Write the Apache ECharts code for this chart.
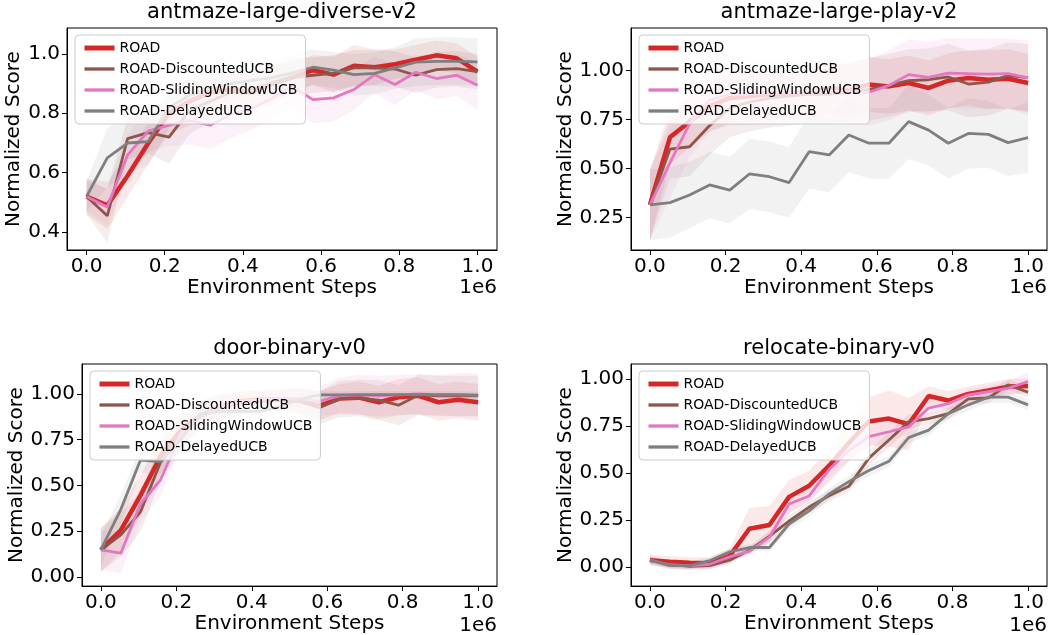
<!DOCTYPE html>
<html>
<head>
<meta charset="utf-8">
<script src="https://cdn.jsdelivr.net/npm/echarts@6/dist/echarts.min.js"></script>
<style>
  html, body { margin: 0; padding: 0; background: #fff; }
  #chart { width: 1048px; height: 635px; }
</style>
</head>
<body>
<div id="chart"></div>
<script>
// environment steps (x 1e6), 20 evaluation points
const steps = [0.0, 0.053, 0.105, 0.158, 0.211, 0.263, 0.316, 0.368, 0.421, 0.474,
               0.526, 0.579, 0.632, 0.684, 0.737, 0.789, 0.842, 0.895, 0.947, 1.0];
const methods = ['ROAD', 'ROAD-DiscountedUCB', 'ROAD-SlidingWindowUCB', 'ROAD-DelayedUCB'];
const titles = ['antmaze-large-diverse-v2', 'antmaze-large-play-v2', 'door-binary-v0', 'relocate-binary-v0'];
const xTicks = [0, 0.2, 0.4, 0.6, 0.8, 1.0];

// antmaze-large-diverse-v2
const diverseRoad  = [0.52,0.49,0.59,0.70,0.80,0.84,0.87,0.88,0.87,0.90,0.92,0.945,0.93,0.96,0.955,0.965,0.98,0.995,0.985,0.94];
const diverseDisc  = [0.52,0.455,0.715,0.735,0.72,0.81,0.84,0.87,0.88,0.90,0.92,0.928,0.935,0.953,0.953,0.949,0.928,0.947,0.95,0.94];
const diverseSw    = [0.52,0.485,0.66,0.74,0.76,0.775,0.76,0.795,0.815,0.85,0.89,0.846,0.852,0.88,0.93,0.897,0.938,0.917,0.928,0.894];
const diverseDelay = [0.52,0.65,0.70,0.705,0.82,0.86,0.88,0.90,0.91,0.92,0.935,0.955,0.945,0.93,0.934,0.953,0.972,0.975,0.975,0.973];
const diverseRoadSd  = [0.06,0.08,0.07,0.07,0.07,0.08,0.08,0.07,0.06,0.06,0.05,0.05,0.06,0.07,0.06,0.05,0.05,0.05,0.05,0.05];
const diverseDiscSd  = [0.06,0.09,0.07,0.07,0.09,0.08,0.07,0.06,0.06,0.06,0.06,0.06,0.06,0.06,0.06,0.06,0.06,0.06,0.06,0.06];
const diverseSwSd    = [0.05,0.06,0.07,0.07,0.07,0.08,0.08,0.08,0.07,0.07,0.07,0.08,0.08,0.07,0.06,0.07,0.06,0.07,0.07,0.08];
const diverseDelaySd = [0.05,0.10,0.10,0.08,0.07,0.06,0.05,0.05,0.05,0.06,0.06,0.06,0.06,0.07,0.07,0.07,0.08,0.08,0.08,0.08];

// antmaze-large-play-v2
const playRoad  = [0.315,0.66,0.74,0.82,0.86,0.87,0.88,0.88,0.89,0.91,0.90,0.93,0.92,0.937,0.912,0.949,0.963,0.954,0.959,0.937];
const playDisc  = [0.315,0.60,0.612,0.72,0.81,0.84,0.86,0.87,0.88,0.88,0.89,0.905,0.925,0.949,0.954,0.968,0.932,0.942,0.975,0.965];
const playSw    = [0.315,0.53,0.73,0.85,0.88,0.88,0.89,0.89,0.90,0.90,0.89,0.89,0.925,0.98,0.966,0.988,0.985,0.983,0.985,0.963];
const playDelay = [0.315,0.327,0.366,0.417,0.391,0.473,0.459,0.429,0.587,0.57,0.672,0.63,0.63,0.74,0.697,0.63,0.68,0.675,0.633,0.658];
const playRoadSd  = [0.18,0.14,0.13,0.13,0.13,0.13,0.13,0.13,0.13,0.13,0.13,0.14,0.14,0.14,0.14,0.14,0.14,0.15,0.15,0.15];
const playDiscSd  = [0.18,0.15,0.15,0.15,0.15,0.15,0.15,0.15,0.15,0.15,0.15,0.16,0.16,0.16,0.16,0.17,0.17,0.17,0.17,0.17];
const playSwSd    = [0.18,0.18,0.17,0.16,0.16,0.16,0.16,0.16,0.16,0.16,0.16,0.17,0.18,0.18,0.18,0.18,0.18,0.18,0.18,0.19];
const playDelaySd = [0.18,0.18,0.17,0.17,0.17,0.18,0.18,0.18,0.19,0.19,0.19,0.18,0.18,0.19,0.18,0.18,0.18,0.17,0.17,0.18];

// door-binary-v0
const doorRoad  = [0.148,0.256,0.446,0.66,0.80,0.88,0.93,0.96,0.97,0.97,0.965,0.935,0.975,0.98,0.955,0.982,0.99,0.955,0.968,0.955];
const doorDisc  = [0.148,0.23,0.356,0.626,0.78,0.88,0.93,0.95,0.96,0.965,0.96,0.925,0.973,0.978,0.966,0.939,0.995,0.99,0.99,0.99];
const doorSw    = [0.148,0.13,0.40,0.53,0.78,0.88,0.93,0.96,0.97,0.975,0.975,0.96,0.99,0.995,0.99,0.995,1.0,0.995,0.995,0.995];
const doorDelay = [0.148,0.37,0.639,0.63,0.75,0.89,0.905,0.905,0.905,0.93,0.97,0.995,0.995,0.997,0.997,0.997,0.997,0.997,0.997,0.993];
const doorRoadSd  = [0.12,0.12,0.11,0.10,0.09,0.08,0.07,0.06,0.05,0.06,0.07,0.08,0.08,0.09,0.09,0.10,0.10,0.10,0.10,0.10];
const doorDiscSd  = [0.12,0.12,0.11,0.10,0.09,0.08,0.07,0.06,0.06,0.06,0.07,0.09,0.10,0.10,0.11,0.11,0.11,0.11,0.11,0.11];
const doorSwSd    = [0.11,0.11,0.10,0.09,0.08,0.06,0.05,0.04,0.04,0.05,0.06,0.08,0.10,0.11,0.11,0.11,0.11,0.11,0.12,0.12];
const doorDelaySd = [0.08,0.08,0.07,0.06,0.06,0.05,0.04,0.03,0.03,0.03,0.03,0.02,0.02,0.02,0.02,0.02,0.02,0.02,0.02,0.02];

// relocate-binary-v0
const relocRoad  = [0.038,0.029,0.024,0.022,0.06,0.205,0.225,0.374,0.433,0.54,0.66,0.775,0.79,0.76,0.91,0.886,0.921,0.94,0.96,0.963];
const relocDisc  = [0.038,0.015,0.005,0.009,0.038,0.09,0.165,0.245,0.32,0.38,0.43,0.58,0.676,0.773,0.79,0.816,0.895,0.90,0.969,0.93];
const relocSw    = [0.038,0.012,0.009,0.016,0.056,0.085,0.16,0.336,0.379,0.519,0.62,0.694,0.72,0.746,0.846,0.869,0.916,0.933,0.951,0.986];
const relocDelay = [0.038,0.009,0.009,0.035,0.082,0.105,0.105,0.23,0.30,0.39,0.455,0.514,0.563,0.689,0.729,0.816,0.863,0.904,0.904,0.863];
const relocRoadSd  = [0.03,0.03,0.03,0.03,0.04,0.11,0.10,0.09,0.08,0.09,0.10,0.13,0.15,0.14,0.05,0.05,0.04,0.04,0.04,0.04];
const relocDiscSd  = [0.02,0.02,0.02,0.02,0.02,0.02,0.03,0.03,0.03,0.03,0.03,0.04,0.04,0.04,0.03,0.03,0.03,0.03,0.03,0.03];
const relocSwSd    = [0.02,0.02,0.02,0.02,0.02,0.02,0.03,0.04,0.04,0.05,0.05,0.05,0.05,0.04,0.04,0.03,0.03,0.03,0.04,0.05];
const relocDelaySd = [0.02,0.02,0.02,0.02,0.02,0.02,0.02,0.03,0.03,0.03,0.03,0.03,0.03,0.03,0.03,0.03,0.03,0.03,0.03,0.03];

const yTicksDiverse = [0.4, 0.6, 0.8, 1.0];
const yTicksPlay = [0.25, 0.5, 0.75, 1.0];
const yTicksDoor = [0, 0.25, 0.5, 0.75, 1.0];
const yTicksReloc = [0, 0.25, 0.5, 0.75, 1.0];

const means = [
  [diverseRoad, diverseDisc, diverseSw, diverseDelay],
  [playRoad, playDisc, playSw, playDelay],
  [doorRoad, doorDisc, doorSw, doorDelay],
  [relocRoad, relocDisc, relocSw, relocDelay]
];
const spreads = [
  [diverseRoadSd, diverseDiscSd, diverseSwSd, diverseDelaySd],
  [playRoadSd, playDiscSd, playSwSd, playDelaySd],
  [doorRoadSd, doorDiscSd, doorSwSd, doorDelaySd],
  [relocRoadSd, relocDiscSd, relocSwSd, relocDelaySd]
];
const yTicks = [yTicksDiverse, yTicksPlay, yTicksDoor, yTicksReloc];

// layout / styles
const FONT = 'DejaVu Sans';
const colors = ['#d62728', '#8c564b', '#e377c2', '#7f7f7f'];
const lineWidths = [4.5, 2.8, 2.8, 2.8];
const grids = [
  {left: 67, top: 28, width: 430, height: 222},
  {left: 631, top: 28, width: 416, height: 222},
  {left: 82, top: 364, width: 415, height: 224},
  {left: 631, top: 364, width: 416, height: 224}
];
const yRanges = [[0.34, 1.087], [0.085, 1.218], [-0.05, 1.164], [-0.10, 1.08]];
const yDigits = [1, 2, 2, 2];
const yNameGaps = [35, 49, 49, 49];

const hexToRgba = (hex, a) => {
  const n = parseInt(hex.slice(1), 16);
  return 'rgba(' + (n >> 16) + ',' + ((n >> 8) & 255) + ',' + (n & 255) + ',' + a + ')';
};

// mean +/- spread band, drawn as one polygon through the axis scales
function bandSeries(p, s) {
  const m = means[p][s], sd = spreads[p][s];
  return {
    type: 'custom', xAxisIndex: p, yAxisIndex: p, silent: true, z: 1,
    data: [[steps[0], m[0]]],
    renderItem: (params, api) => {
      const pts = [];
      for (let i = 0; i < steps.length; i++) pts.push(api.coord([steps[i], m[i] + sd[i]]));
      for (let i = steps.length - 1; i >= 0; i--) pts.push(api.coord([steps[i], m[i] - sd[i]]));
      const cs = params.coordSys;
      return {
        type: 'group',
        clipPath: {type: 'rect', shape: {x: cs.x, y: cs.y, width: cs.width, height: cs.height}},
        children: [{
          type: 'polygon', shape: {points: pts},
          style: {fill: hexToRgba(colors[s], 0.1), stroke: null}
        }]
      };
    }
  };
}

const series = [];
for (let p = 0; p < 4; p++) {
  for (let s = 0; s < 4; s++) series.push(bandSeries(p, s));
  for (let s = 0; s < 4; s++) {
    series.push({
      name: methods[s], type: 'line', xAxisIndex: p, yAxisIndex: p,
      symbol: 'none', z: 3,
      lineStyle: {color: colors[s], width: lineWidths[s]},
      itemStyle: {color: colors[s]},
      data: steps.map((x, i) => [x, means[p][s][i]])
    });
  }
}

const xAxes = grids.map((g, p) => ({
  gridIndex: p, type: 'value', min: -0.05, max: 1.05,
  axisLine: {show: true, onZero: false, lineStyle: {color: '#000', width: 1}},
  axisTick: {show: true, customValues: xTicks, length: 5, lineStyle: {color: '#000'}},
  axisLabel: {customValues: xTicks, formatter: v => v.toFixed(1), fontSize: 20,
              fontFamily: FONT, color: '#000', margin: 7},
  splitLine: {show: false},
  name: 'Environment Steps', nameLocation: 'middle', nameGap: 27,
  nameTextStyle: {fontSize: 20, fontFamily: FONT, color: '#000'}
}));

const yAxes = grids.map((g, p) => ({
  gridIndex: p, type: 'value', min: yRanges[p][0], max: yRanges[p][1],
  axisLine: {show: true, onZero: false, lineStyle: {color: '#000', width: 1}},
  axisTick: {show: true, customValues: yTicks[p], length: 5, lineStyle: {color: '#000'}},
  axisLabel: {customValues: yTicks[p], formatter: v => v.toFixed(yDigits[p]), fontSize: 20,
              fontFamily: FONT, color: '#000', margin: 7},
  splitLine: {show: false},
  name: 'Normalized Score', nameLocation: 'middle', nameGap: yNameGaps[p],
  nameTextStyle: {fontSize: 20, fontFamily: FONT, color: '#000'}
}));

const legends = grids.map(g => ({
  orient: 'vertical', left: g.left + 8, top: g.top + 7,
  data: methods.map((name, s) => ({name: name, lineStyle: {width: lineWidths[s] + 0.5, color: colors[s]}})),
  itemWidth: 30, itemHeight: 14, itemGap: 7,
  itemStyle: {opacity: 0},
  padding: [6, 8, 6, 7],
  backgroundColor: 'rgba(255,255,255,0.8)', borderColor: '#cccccc', borderWidth: 1, borderRadius: 4,
  textStyle: {fontSize: 14, fontFamily: FONT, color: '#000'},
  selectedMode: false, z: 10
}));

const titleComps = grids.map((g, p) => ({
  text: titles[p], left: g.left + g.width / 2, top: g.top - 26, textAlign: 'center',
  padding: 0,
  textStyle: {fontSize: 21, fontWeight: 'normal', fontFamily: FONT, color: '#000'}
}));

const offsetTexts = grids.map(g => ({
  type: 'text', right: 1048 - (g.left + g.width), top: g.top + g.height + 28,
  style: {text: '1e6', fontSize: 20, fontFamily: FONT, fill: '#000'}
}));

const chart = echarts.init(document.getElementById('chart'), null, {renderer: 'canvas'});
chart.setOption({
  animation: false,
  backgroundColor: '#fff',
  title: titleComps,
  legend: legends,
  grid: grids.map(g => Object.assign({show: true, borderColor: '#000', borderWidth: 1,
                                      backgroundColor: 'transparent', containLabel: false}, g)),
  xAxis: xAxes,
  yAxis: yAxes,
  graphic: offsetTexts,
  series: series
});
</script>
</body>
</html>
